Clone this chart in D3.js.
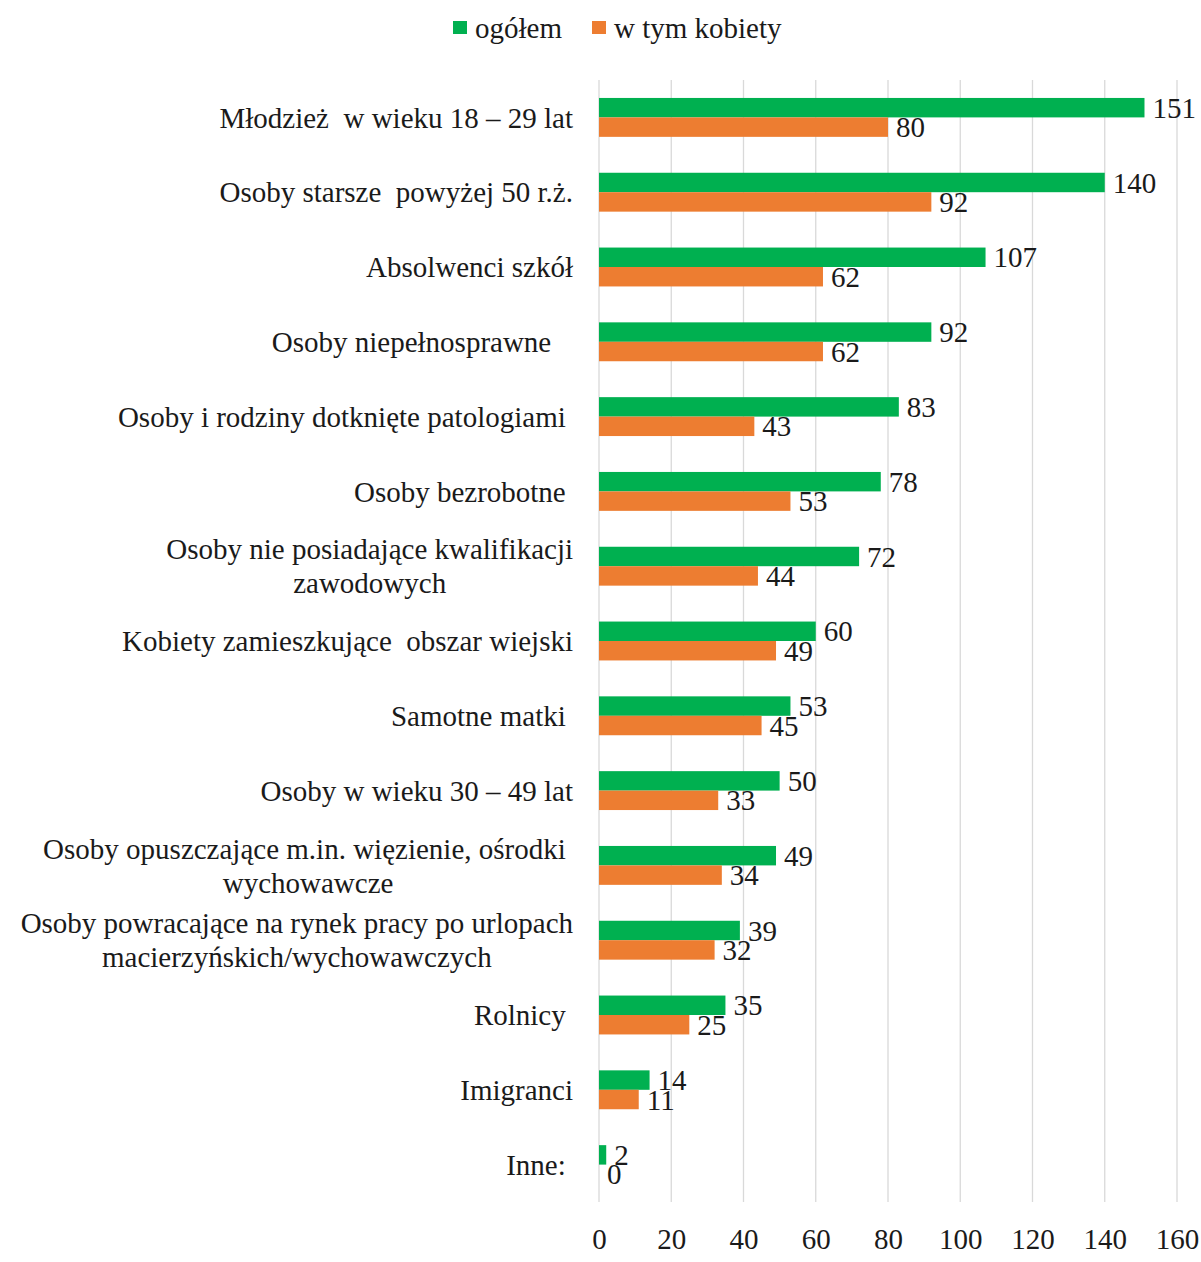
<!DOCTYPE html>
<html>
<head>
<meta charset="utf-8">
<script src="https://cdn.jsdelivr.net/npm/d3@7"></script>
<style>
  body { margin: 0; background: #fff; }
  svg text { font-family: "Liberation Serif", "Times New Roman", serif; fill: #1a1a1a; }
</style>
</head>
<body>
<div id="chart"></div>
<script>
// kategorie (linie rozdzielone "\n"), spacje na końcu jak w oryginale
const categories = [
  "Młodzież  w wieku 18 – 29 lat",
  "Osoby starsze  powyżej 50 r.ż.",
  "Absolwenci szkół",
  "Osoby niepełnosprawne   ",
  "Osoby i rodziny dotknięte patologiami ",
  "Osoby bezrobotne ",
  "Osoby nie posiadające kwalifikacji\nzawodowych",
  "Kobiety zamieszkujące  obszar wiejski",
  "Samotne matki ",
  "Osoby w wieku 30 – 49 lat",
  "Osoby opuszczające m.in. więzienie, ośrodki \nwychowawcze",
  "Osoby powracające na rynek pracy po urlopach\nmacierzyńskich/wychowawczych",
  "Rolnicy ",
  "Imigranci",
  "Inne: "
];
const ogolem  = [151, 140, 107, 92, 83, 78, 72, 60, 53, 50, 49, 39, 35, 14, 2];
const kobiety = [80, 92, 62, 62, 43, 53, 44, 49, 45, 33, 34, 32, 25, 11, 0];
const seriesNames = ["ogółem", "w tym kobiety"];
const colors = ["#00B050", "#ED7D31"];
const xTicks = [0, 20, 40, 60, 80, 100, 120, 140, 160];

const W = 1201, H = 1262;
const plotL = 599, plotR = 1177, plotT = 80, plotB = 1202;
const fs = 29;

const svg = d3.select("#chart").append("svg")
  .attr("width", W).attr("height", H);

const x = d3.scaleLinear().domain([0, 160]).range([plotL, plotR]);
const y = d3.scaleBand().domain(d3.range(categories.length))
  .range([plotT, plotB]).paddingInner(0.48).paddingOuter(0.24);
const ySub = d3.scaleBand().domain([0, 1]).range([0, y.bandwidth()]);

// siatka
svg.append("g").selectAll("line").data(xTicks).join("line")
  .attr("x1", d => x(d)).attr("x2", d => x(d))
  .attr("y1", plotT).attr("y2", plotB)
  .attr("stroke", "#d9d9d9").attr("stroke-width", 1.3);

// oś X - etykiety
const xAxis = d3.axisBottom(x).tickValues(xTicks).tickSize(0).tickPadding(0);
const ax = svg.append("g").attr("transform", `translate(0,${plotB + 26})`).call(xAxis);
ax.select(".domain").remove();
ax.selectAll("text").attr("font-size", fs).attr("font-family", null).attr("fill", "#1a1a1a");

// słupki
const rows = categories.map((c, i) => ({ i, vals: [ogolem[i], kobiety[i]] }));
const g = svg.append("g").selectAll("g").data(rows).join("g")
  .attr("transform", d => `translate(0,${y(d.i)})`);

g.selectAll("rect").data(d => d.vals.map((v, k) => ({ v, k }))).join("rect")
  .attr("x", x(0))
  .attr("y", d => ySub(d.k))
  .attr("width", d => x(d.v) - x(0))
  .attr("height", ySub.bandwidth())
  .attr("fill", d => colors[d.k]);

g.selectAll("text.val").data(d => d.vals.map((v, k) => ({ v, k }))).join("text")
  .attr("class", "val")
  .attr("x", d => x(d.v) + 8)
  .attr("y", d => ySub(d.k) + ySub.bandwidth() / 2)
  .attr("dy", "0.35em")
  .attr("font-size", fs)
  .text(d => d.v);

// etykiety kategorii
const labelRight = 573;
categories.forEach((c, i) => {
  const lines = c.split("\n");
  const cy = y(i) + y.bandwidth() / 2;
  const lh = 34;
  const t = svg.append("text")
    .attr("font-size", fs)
    .attr("text-anchor", "middle")
    .style("white-space", "pre");
  lines.forEach((ln, j) => {
    t.append("tspan")
      .attr("x", 0)
      .attr("y", cy + (j - (lines.length - 1) / 2) * lh)
      .attr("dy", "0.35em")
      .text(ln);
  });
  const w = d3.max(t.selectAll("tspan").nodes(), n => n.getComputedTextLength());
  t.attr("transform", `translate(${labelRight - w / 2},0)`);
});

// legenda
const legX = [453, 592];
const leg = svg.append("g").selectAll("g").data(seriesNames).join("g")
  .attr("transform", (d, i) => `translate(${legX[i]},21)`);
leg.append("rect").attr("width", 14).attr("height", 13)
  .attr("fill", (d, i) => colors[i]);
leg.append("text").attr("x", 22).attr("y", 7).attr("dy", "0.35em")
  .attr("font-size", fs).text(d => d);
</script>
</body>
</html>
